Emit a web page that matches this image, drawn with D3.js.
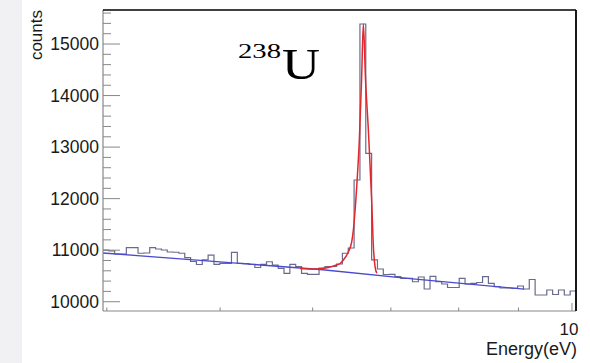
<!DOCTYPE html>
<meta charset="utf-8">
<style>
body { margin: 0; background: #fff; }
svg { display: block; }
.lbl { font-family: "Liberation Sans", Arial, sans-serif; fill: #1a1a1a; }
</style>
<body>
<script src="https://cdn.jsdelivr.net/npm/d3@7"></script>
<script>

// histogram: 81 log-spaced bins between binLo and binHi (eV)
var binLo = 3.97, binHi = 10.08, nBins = 81;
var counts = [
  11000, 10985, 10926, 10926, 11050, 11050, 10940, 10945, 11050, 11023,
  11004, 10965, 10960, 10940, 10854, 10780, 10722, 10810, 10906, 10726,
  10745, 10745, 10959, 10745, 10740, 10726, 10664, 10726, 10776, 10712,
  10648, 10551, 10726, 10680, 10551, 10532, 10530, 10654, 10683, 10683,
  10732, 10940, 11042, 12362, 15388, 12880, 10810, 10635, 10528, 10532,
  10486, 10454, 10454, 10388, 10480, 10247, 10493, 10388, 10344, 10276,
  10276, 10454, 10344, 10357, 10373, 10486, 10357, 10291, 10266, 10266,
  10260, 10305, 10247, 10431, 10130, 10130, 10227, 10140, 10227, 10130,
  10208];

// fitted resonance (red)
var fitE = [5.853, 6.029, 6.173, 6.271, 6.333, 6.374, 6.437, 6.480, 6.501, 6.544,
            6.578, 6.607, 6.630, 6.659, 6.696, 6.712, 6.741, 6.762, 6.785, 6.808];
var fitCounts = [10645, 10635, 10660, 10703, 10742, 10810, 10965, 11159, 11392, 12226,
                 13138, 14302, 15388, 14302, 13332, 12847, 11915, 11081, 10680, 10552];

// background (blue)
var bgE = [3.97, 6.09, 7.27, 9.1];
var bgCounts = [10945, 10625, 10450, 10245];

var yTicks = [10000, 11000, 12000, 13000, 14000, 15000];
var yTickLabels = ["10000", "11000", "12000", "13000", "14000", "15000"];
var xTicks = [4, 5, 6, 7, 8, 9, 10];
var xLabelTicks = [10];
var xTickLabels = ["10"];

var W = 590, H = 363;
var pl = 103, pr = 576, pt = 10, pb = 311;

var svg = d3.select("body").append("svg")
    .attr("width", W)
    .attr("height", H);

svg.append("rect")
    .attr("x", 0).attr("y", 0)
    .attr("width", 22).attr("height", H)
    .attr("fill", "#f1f1f4");

var x = d3.scaleLog().domain([binLo, binHi]).range([pl, pr]);
var y = d3.scaleLinear().domain([9820, 15660]).range([pb, pt]);

// histogram steps
var ratio = binHi / binLo;
var pts = counts.map(function(c, i) {
  return [binLo * Math.pow(ratio, i / nBins), c];
});
pts.push([binHi, counts[counts.length - 1]]);

var line = d3.line()
    .x(function(d) { return x(d[0]); })
    .y(function(d) { return y(d[1]); });

svg.append("path")
    .datum(pts)
    .attr("d", line.curve(d3.curveStepAfter))
    .attr("fill", "none")
    .attr("stroke", "#6a6a8c")
    .attr("stroke-width", 1.2);

svg.append("path")
    .datum(bgE.map(function(e, i) { return [e, bgCounts[i]]; }))
    .attr("d", d3.line()
        .x(function(d) { return x(d[0]); })
        .y(function(d) { return y(d[1]); }))
    .attr("fill", "none")
    .attr("stroke", "#4a4ad0")
    .attr("stroke-width", 1.3);

svg.append("path")
    .datum(fitE.map(function(e, i) { return [e, fitCounts[i]]; }))
    .attr("d", d3.line()
        .x(function(d) { return x(d[0]); })
        .y(function(d) { return y(d[1]); })
        .curve(d3.curveMonotoneX))
    .attr("fill", "none")
    .attr("stroke", "#e3262b")
    .attr("stroke-width", 1.5);

// y axis ticks (inside the frame)
var minor = d3.range(10000, 15700, 200).filter(function(v) { return v % 1000 != 0; });
svg.selectAll(".ymin").data(minor).enter().append("line")
    .attr("x1", pl).attr("x2", pl + 8)
    .attr("y1", function(d) { return y(d); })
    .attr("y2", function(d) { return y(d); })
    .attr("stroke", "#888").attr("stroke-width", 1);
svg.selectAll(".ymaj").data(yTicks).enter().append("line")
    .attr("x1", pl).attr("x2", pl + 17)
    .attr("y1", function(d) { return y(d); })
    .attr("y2", function(d) { return y(d); })
    .attr("stroke", "#888").attr("stroke-width", 1);
svg.selectAll(".ylab").data(yTicks).enter().append("text")
    .attr("class", "lbl")
    .attr("x", pl - 4)
    .attr("y", function(d) { return y(d) + 6; })
    .attr("text-anchor", "end")
    .style("font-size", "17.5px")
    .text(function(d, i) { return yTickLabels[i]; });

// x axis ticks
svg.selectAll(".xt").data(xTicks).enter().append("line")
    .attr("x1", function(d) { return x(d); })
    .attr("x2", function(d) { return x(d); })
    .attr("y1", pb)
    .attr("y2", function(d) { return xLabelTicks.indexOf(d) >= 0 ? pb - 8 : pb - 3.5; })
    .attr("stroke", "#888").attr("stroke-width", 1);
svg.selectAll(".xlab").data(xLabelTicks).enter().append("text")
    .attr("class", "lbl")
    .attr("x", function(d) { return x(d) - 3; })
    .attr("y", 335)
    .attr("text-anchor", "middle")
    .style("font-size", "17px")
    .text(function(d, i) { return xTickLabels[i]; });

// frame
svg.append("line").attr("x1", pl).attr("x2", pl).attr("y1", pt).attr("y2", pb)
    .attr("stroke", "#888").attr("stroke-width", 1.2);
svg.append("line").attr("x1", pl).attr("x2", pr).attr("y1", pb).attr("y2", pb)
    .attr("stroke", "#888").attr("stroke-width", 1.2);
svg.append("line").attr("x1", pl).attr("x2", pr).attr("y1", pt).attr("y2", pt)
    .attr("stroke", "#000").attr("stroke-width", 1.5);
svg.append("line").attr("x1", pr).attr("x2", pr).attr("y1", pt).attr("y2", pb)
    .attr("stroke", "#000").attr("stroke-width", 1.8);

// titles
svg.append("text")
    .attr("class", "lbl")
    .attr("transform", "translate(42,10) rotate(-90)")
    .attr("text-anchor", "end")
    .style("font-size", "17px")
    .text("counts");

svg.append("text")
    .attr("class", "lbl")
    .attr("x", 577).attr("y", 355)
    .attr("text-anchor", "end")
    .style("font-size", "18px")
    .text("Energy(eV)");

svg.append("text")
    .attr("x", 238).attr("y", 58)
    .attr("textLength", 43).attr("lengthAdjust", "spacingAndGlyphs")
    .style("font-family", "'Liberation Serif', 'Times New Roman', serif")
    .style("font-size", "20px")
    .text("238");
svg.append("text")
    .attr("x", 282).attr("y", 78.5)
    .attr("textLength", 38).attr("lengthAdjust", "spacingAndGlyphs")
    .style("font-family", "'Liberation Serif', 'Times New Roman', serif")
    .style("font-size", "45px")
    .text("U");

</script>
</body>
